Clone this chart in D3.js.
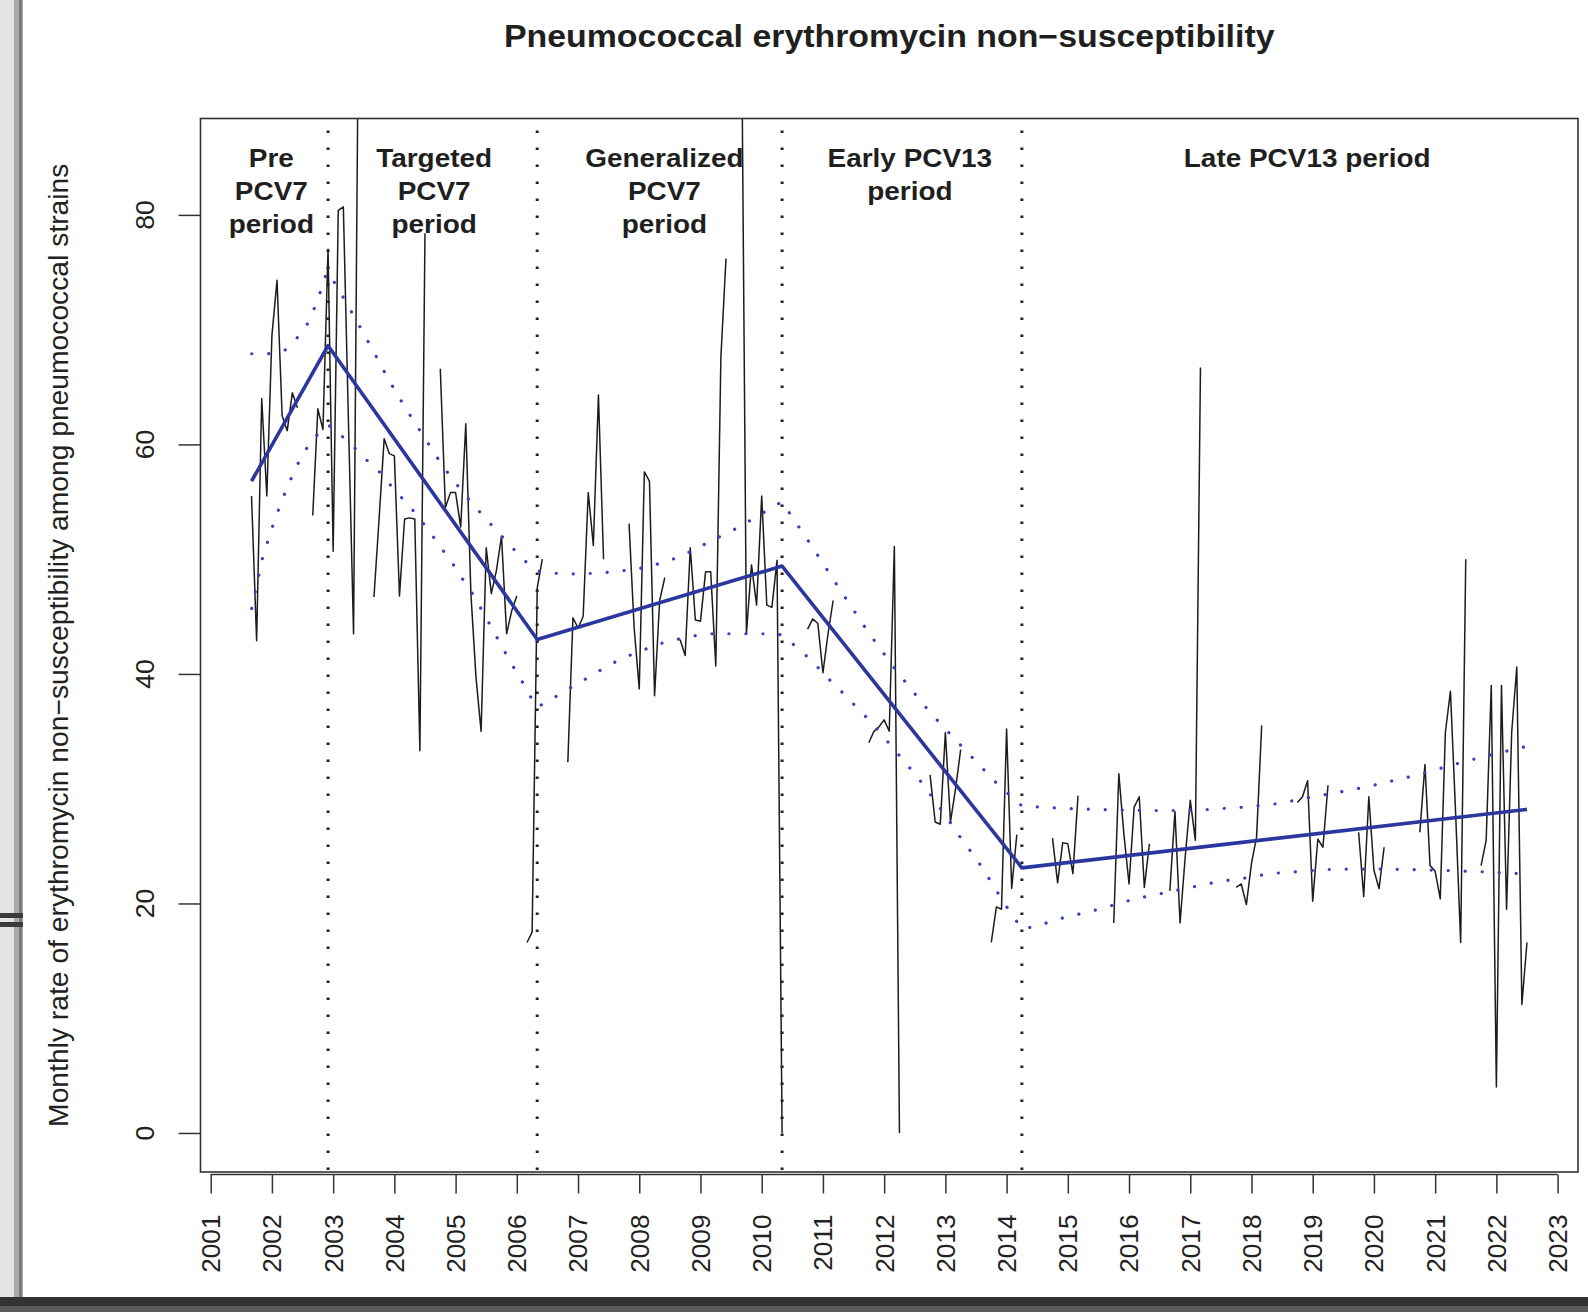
<!DOCTYPE html>
<html>
<head>
<meta charset="utf-8">
<script src="https://cdn.jsdelivr.net/npm/d3@7"></script>
<style>
  html, body { margin: 0; padding: 0; background: #fff; }
  svg { display: block; }
</style>
</head>
<body>
<script>
// monthly series starts September 2001, ends July 2022
let firstYear = 2001;
let firstMonth = 9;

// monthly rate (%) per calendar year, null = no isolates that month
let rate2001 = [55.5, 42.9, 64.0, 55.5];
let rate2002 = [69.5, 74.3, 62.5, 61.2, 64.5, 63.2, null, null, 53.8, 63.1, 61.3, 77.0];
let rate2003 = [50.7, 80.4, 80.7, 62.0, 43.5, 100, null, null, 46.7, 53.5, 60.5, 59.2];
let rate2004 = [59.0, 46.8, 53.5, 53.6, 53.5, 33.3, 78.4, null, null, 66.6, 54.5, 55.8];
let rate2005 = [55.8, 52.8, 61.8, 47.0, 39.7, 35.0, 51.0, 47.0, 49.0, 52.0, 43.5, 45.5];
let rate2006 = [46.8, null, 16.6, 17.5, 47.5, 50.0, null, null, null, null, 32.3, 44.9];
let rate2007 = [44.0, 45.0, 55.8, 51.2, 64.3, 50.0, null, null, null, null, 53.1, 44.0];
let rate2008 = [38.7, 57.6, 56.8, 38.1, 46.4, 48.4, null, null, 43.0, 41.6, 51.0, 44.7];
let rate2009 = [44.6, 48.9, 48.9, 40.7, 67.6, 76.2, null, null, 100, 43.5, 49.5, 46.0];
let rate2010 = [55.5, 46.0, 45.8, 49.9, 0, null, null, null, null, 43.9, 44.8, 44.4];
let rate2011 = [40.1, 43.5, 46.4, null, null, null, null, null, null, 34.0, 35.0, 35.4];
let rate2012 = [36.0, 35.0, 51.1, 0, null, null, null, null, null, 31.2, 27.1, 26.9];
let rate2013 = [34.9, 27.1, 30.0, 33.4, null, null, null, null, null, 16.6, 19.7, 19.5];
let rate2014 = [35.2, 21.3, 26.0, null, null, null, null, null, null, 25.7, 21.8, 25.3];
let rate2015 = [25.2, 22.6, 29.4, null, null, null, null, null, null, 18.3, 31.3, 26.0];
let rate2016 = [21.7, 28.4, 29.3, 21.4, 25.2, null, null, null, 21.1, 28.0, 18.3, 24.0];
let rate2017 = [29.0, 25.5, 66.7, null, null, null, null, null, null, 21.4, 21.7, 19.9];
let rate2018 = [23.5, 25.8, 35.5, null, null, null, null, null, null, 28.8, 29.3, 30.7];
let rate2019 = [20.2, 25.6, 24.9, 30.3, null, null, null, null, null, 26.2, 20.6, 29.3];
let rate2020 = [22.9, 21.3, 24.9, null, null, null, null, null, null, 26.2, 32.1, 23.3];
let rate2021 = [22.8, 20.4, 34.9, 38.5, 28.0, 16.6, 50.0, null, null, 23.3, 25.5, 39.0];
let rate2022 = [4.0, 39.0, 19.5, 34.9, 40.6, 11.2, 16.6];

// segmented regression fit
let fitDates = [2001.667, 2002.917, 2006.333, 2010.333, 2014.25, 2022.5];
let fitValues = [56.8, 68.6, 43.0, 49.4, 23.1, 28.2];

// 95% confidence band
let upperDates = [2001.67, 2001.94, 2002.21, 2002.40, 2002.57, 2002.68, 2002.78, 2002.87, 2002.92,
    2003.09, 2003.37, 2003.64, 2003.90, 2004.19, 2004.49, 2004.78, 2005.12, 2005.48, 2005.67, 2005.86, 2006.05, 2006.24, 2006.33,
    2006.48, 2007.06, 2007.60, 2008.14, 2008.66, 2009.18, 2009.67, 2009.88, 2010.33,
    2010.81, 2011.26, 2011.72, 2012.21, 2012.74, 2013.30, 2013.87, 2014.25,
    2014.85, 2015.41, 2016.22, 2016.79, 2017.34, 2017.90, 2018.44, 2019.00, 2019.54, 2020.08, 2020.63, 2021.17, 2021.72, 2022.26, 2022.5];
let upperCI = [67.9, 67.9, 68.2, 69.2, 70.4, 71.7, 73.1, 74.6, 75.0,
    73.5, 70.9, 68.3, 65.7, 63.1, 60.6, 58.2, 55.8, 53.6, 52.5, 51.4, 50.3, 49.3, 49.0,
    48.8, 48.7, 48.9, 49.3, 50.2, 51.6, 52.9, 53.6, 55.0,
    51.2, 47.5, 43.8, 40.2, 36.7, 33.5, 30.3, 28.5,
    28.3, 28.2, 28.1, 28.1, 28.2, 28.4, 28.7, 29.3, 29.8, 30.4, 31.1, 31.9, 32.7, 33.4, 33.7];
let lowerDates = [2001.67, 2001.85, 2002.05, 2002.25, 2002.45, 2002.65, 2002.92,
    2003.08, 2003.30, 2003.49, 2003.71, 2003.88, 2004.06, 2004.25, 2004.42, 2004.59, 2004.76, 2004.92, 2005.07, 2005.23, 2005.37, 2005.51, 2005.91, 2006.05, 2006.18, 2006.33,
    2006.54, 2006.78, 2007.01, 2007.26, 2007.49, 2007.73, 2007.99, 2008.25, 2008.52, 2008.79, 2009.07, 2009.61, 2010.16, 2010.33,
    2010.62, 2010.83, 2011.01, 2011.22, 2011.41, 2011.60, 2011.79, 2011.98, 2012.15, 2012.33, 2012.51, 2012.68, 2012.83, 2013.00, 2013.16, 2013.32, 2013.49, 2013.64, 2013.79, 2013.94, 2014.09, 2014.25,
    2014.49, 2014.76, 2015.03, 2015.30, 2015.57, 2015.84, 2016.10, 2016.37, 2016.65, 2016.92, 2017.18, 2017.46, 2017.73, 2018.01, 2018.29, 2018.83, 2019.38, 2020.19, 2021.04, 2021.61, 2022.42, 2022.5];
let lowerCI = [45.7, 50.2, 53.5, 56.3, 58.6, 60.4, 61.7,
    61.0, 60.0, 58.9, 57.9, 56.8, 55.7, 54.6, 53.5, 52.3, 51.0, 49.9, 48.6, 47.4, 46.1, 44.8, 40.9, 39.7, 38.4, 37.1,
    37.7, 38.5, 39.2, 40.0, 40.7, 41.4, 41.9, 42.5, 42.9, 43.2, 43.5, 43.5, 43.5, 43.4,
    42.1, 41.1, 40.0, 38.9, 37.9, 36.8, 35.8, 34.6, 33.5, 32.4, 31.2, 30.1, 28.9, 27.7, 26.4, 25.2, 24.0, 22.8, 21.5, 20.2, 19.0, 17.8,
    18.0, 18.5, 18.9, 19.2, 19.6, 20.0, 20.4, 20.7, 21.0, 21.3, 21.6, 21.9, 22.1, 22.3, 22.6, 22.8, 23.0, 23.0, 22.9, 22.8, 22.6, 22.6];

// vaccine period boundaries and labels
let breakDates = [2002.917, 2006.333, 2010.333, 2014.25];
let periodLabels = [['Pre', 'PCV7', 'period'], ['Targeted', 'PCV7', 'period'], ['Generalized', 'PCV7', 'period'], ['Early PCV13', 'period'], ['Late PCV13 period']];
let labelCentres = [2001.99, 2004.65, 2008.41, 2012.42, 2018.91];

let yTicks = [0, 20, 40, 60, 80];
let yLimits = [0, 85];
let xTicks = d3.range(2001, 2024);

let titleText = 'Pneumococcal erythromycin non\u2212susceptibility';
let yTitleText = 'Monthly rate of erythromycin non\u2212susceptibility among pneumococcal strains';

//build monthly points from the yearly rows
let allRates = [].concat(rate2001, rate2002, rate2003, rate2004, rate2005, rate2006, rate2007, rate2008,
    rate2009, rate2010, rate2011, rate2012, rate2013, rate2014, rate2015, rate2016, rate2017, rate2018,
    rate2019, rate2020, rate2021, rate2022);
let monthly = allRates.map(function(v, i){
    return { date: firstYear + (firstMonth - 1 + i) / 12, value: v };
});

//chart constants
let totalWidth = 1588;
let totalHeight = 1312;
let margins = { top: 118.5, right: 10, bottom: 140, left: 200.5 };
let innerWidth = totalWidth - margins.left - margins.right;
let innerHeight = totalHeight - margins.top - margins.bottom;
let boxBottom = margins.top + innerHeight;
let font = '"Liberation Sans", Arial, Helvetica, sans-serif';
let stretch = 1.1;
let blue = '#2b379f';

//R style 4% padding on both axes
let dateExtent = d3.extent(monthly, function(d){ return d.date; });
let xPad = 0.04 * (dateExtent[1] - dateExtent[0]);
let yPad = 0.04 * (yLimits[1] - yLimits[0]);

let xScale = d3.scaleLinear()
    .domain([dateExtent[0] - xPad, dateExtent[1] + xPad])
    .range([margins.left, margins.left + innerWidth]);
let yScale = d3.scaleLinear()
    .domain([yLimits[0] - yPad, yLimits[1] + yPad])
    .range([boxBottom, margins.top]);

let svg = d3.select('body').append('svg')
    .attr('width', totalWidth)
    .attr('height', totalHeight)
    .style('font-family', font);

svg.append('rect').attr('width', totalWidth).attr('height', totalHeight).attr('fill', '#fff');

//screenshot frame around the figure
let frame = svg.append('g');
frame.append('rect').attr('x', 0).attr('y', 0).attr('width', 14).attr('height', totalHeight).attr('fill', '#e4e4e4');
frame.append('rect').attr('x', 14).attr('y', 0).attr('width', 9).attr('height', totalHeight).attr('fill', '#a9a9a9');
frame.append('rect').attr('x', 19).attr('y', 0).attr('width', 3).attr('height', totalHeight).attr('fill', '#7c7c7c');
frame.append('rect').attr('x', 0).attr('y', 913).attr('width', 23).attr('height', 5).attr('fill', '#3a3a3a');
frame.append('rect').attr('x', 0).attr('y', 922).attr('width', 23).attr('height', 5).attr('fill', '#3a3a3a');
frame.append('rect').attr('x', 0).attr('y', 1297).attr('width', totalWidth).attr('height', 9).attr('fill', '#333');
frame.append('rect').attr('x', 0).attr('y', 1306).attr('width', totalWidth).attr('height', 6).attr('fill', '#5c5c5c');

svg.append('clipPath').attr('id', 'plotClip')
    .append('rect')
    .attr('x', margins.left).attr('y', margins.top)
    .attr('width', innerWidth).attr('height', innerHeight);

//monthly data line, breaks where a month is missing
let dataLine = d3.line()
    .defined(function(d){ return d.value !== null; })
    .x(function(d){ return xScale(d.date); })
    .y(function(d){ return yScale(d.value); });

svg.append('path')
    .datum(monthly)
    .attr('clip-path', 'url(#plotClip)')
    .attr('fill', 'none')
    .attr('stroke', '#1c1c1c')
    .attr('stroke-width', 1.5)
    .attr('stroke-linejoin', 'round')
    .attr('d', dataLine);

//period boundaries
svg.append('g')
    .selectAll('line')
    .data(breakDates)
    .enter()
    .append('line')
    .attr('x1', function(d){ return xScale(d); })
    .attr('x2', function(d){ return xScale(d); })
    .attr('y1', margins.top)
    .attr('y2', boxBottom)
    .attr('stroke', '#222')
    .attr('stroke-width', 3)
    .attr('stroke-dasharray', '2.6 14.4')
    .attr('stroke-dashoffset', -12);

//confidence band
let pairLine = d3.line()
    .x(function(d){ return xScale(d[0]); })
    .y(function(d){ return yScale(d[1]); });

[d3.zip(upperDates, upperCI), d3.zip(lowerDates, lowerCI)].forEach(function(band){
    svg.append('path')
        .datum(band)
        .attr('fill', 'none')
        .attr('stroke', '#3441c2')
        .attr('stroke-width', 3.2)
        .attr('stroke-linecap', 'round')
        .attr('stroke-dasharray', '0.1 16.9')
        .attr('d', pairLine);
});

//fitted trend
svg.append('path')
    .datum(d3.zip(fitDates, fitValues))
    .attr('fill', 'none')
    .attr('stroke', blue)
    .attr('stroke-width', 3.6)
    .attr('stroke-linejoin', 'round')
    .attr('d', pairLine);

//plot box
svg.append('rect')
    .attr('x', margins.left).attr('y', margins.top)
    .attr('width', innerWidth).attr('height', innerHeight)
    .attr('fill', 'none')
    .attr('stroke', '#333')
    .attr('stroke-width', 1.6);

//x axis: ticks from d3, rotated year labels written separately
let xAxis = d3.axisBottom(xScale)
    .tickValues(xTicks)
    .tickSize(19)
    .tickSizeOuter(0)
    .tickFormat('');

let xAxisY = boxBottom + 2.5;
let xAxisG = svg.append('g')
    .attr('transform', `translate(0, ${xAxisY})`)
    .call(xAxis);
xAxisG.select('.domain').remove();
xAxisG.selectAll('.tick text').remove();
xAxisG.append('line')
    .attr('x1', xScale(xTicks[0])).attr('x2', xScale(xTicks[xTicks.length - 1]))
    .attr('stroke', '#333').attr('stroke-width', 1.5);
xAxisG.selectAll('.tick line').attr('stroke', '#333').attr('stroke-width', 1.5);

let xLabelY = xAxisY + 40;
svg.append('g')
    .selectAll('text')
    .data(xTicks)
    .enter()
    .append('text')
    .attr('x', function(d){ return xScale(d); })
    .attr('y', xLabelY)
    .attr('dy', '0.358em')
    .attr('text-anchor', 'end')
    .attr('transform', function(d){ return `rotate(-90, ${xScale(d)}, ${xLabelY})`; })
    .attr('fill', '#222')
    .style('font-size', '26.2px')
    .text(function(d){ return d; });

//y axis: ticks from d3, labels parallel to the axis
let yAxis = d3.axisLeft(yScale)
    .tickValues(yTicks)
    .tickSize(22)
    .tickSizeOuter(0)
    .tickFormat('');

let yAxisG = svg.append('g')
    .attr('transform', `translate(${margins.left}, 0)`)
    .call(yAxis);
yAxisG.select('.domain').remove();
yAxisG.selectAll('.tick text').remove();
yAxisG.selectAll('.tick line').attr('stroke', '#333').attr('stroke-width', 1.5);

let yLabelX = margins.left - 46.5;
svg.append('g')
    .selectAll('text')
    .data(yTicks)
    .enter()
    .append('text')
    .attr('x', yLabelX)
    .attr('y', function(d){ return yScale(d); })
    .attr('text-anchor', 'middle')
    .attr('transform', function(d){ return `rotate(-90, ${yLabelX}, ${yScale(d)})`; })
    .attr('fill', '#222')
    .style('font-size', '26.6px')
    .text(function(d){ return d; });

//period labels
periodLabels.forEach(function(lines, i){
    lines.forEach(function(txt, j){
        svg.append('text')
            .attr('transform', `translate(${xScale(labelCentres[i])}, ${167 + 33 * j}) scale(${stretch}, 1)`)
            .attr('text-anchor', 'middle')
            .attr('fill', '#1f1f1f')
            .style('font-weight', 'bold')
            .style('font-size', '25.4px')
            .text(txt);
    });
});

//title
svg.append('text')
    .attr('transform', `translate(${margins.left + innerWidth / 2}, 46.7) scale(${stretch}, 1)`)
    .attr('text-anchor', 'middle')
    .attr('fill', '#1f1f1f')
    .style('font-weight', 'bold')
    .style('font-size', '30.8px')
    .text(titleText);

//y axis title, sized to run the length seen in the figure
let yTitleX = 67.5;
let yTitleY = margins.top + innerHeight / 2;
let yTitle = svg.append('text')
    .attr('x', yTitleX)
    .attr('y', yTitleY)
    .attr('transform', `rotate(-90, ${yTitleX}, ${yTitleY})`)
    .attr('text-anchor', 'middle')
    .attr('fill', '#222')
    .style('font-size', '26px')
    .text(yTitleText);
let natural = yTitle.node().getComputedTextLength();
yTitle.style('font-size', (26 * 964 / natural) + 'px');
</script>
</body>
</html>
